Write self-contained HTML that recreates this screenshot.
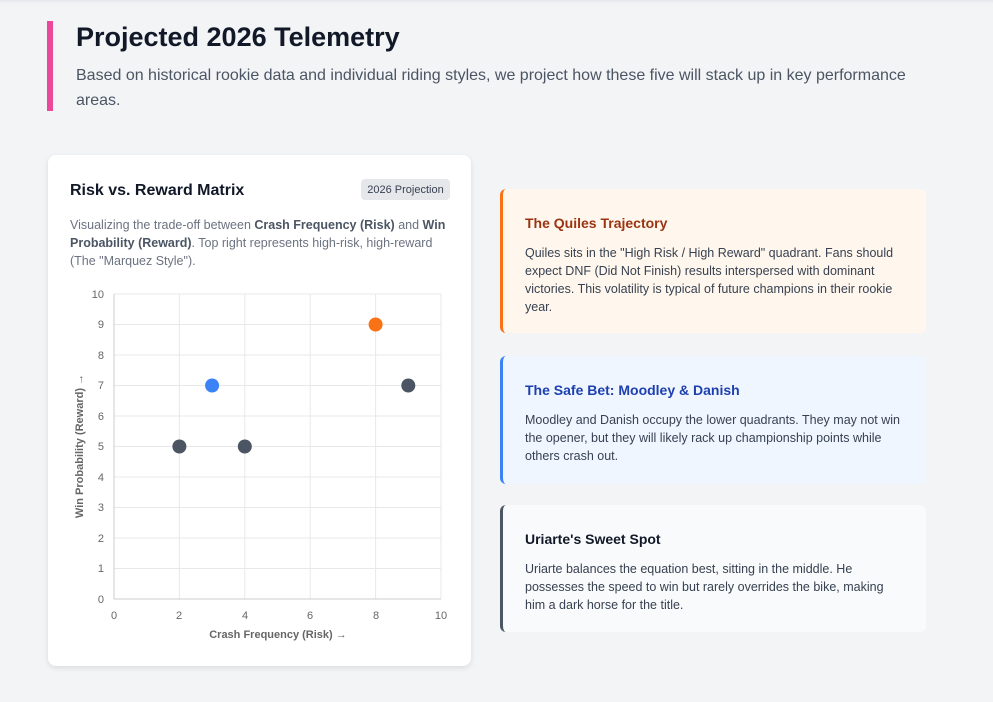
<!DOCTYPE html><html><head><style>
body{margin:0;width:993px;height:702px;background:#f3f4f6;font-family:"Liberation Sans",sans-serif;position:relative;overflow:hidden}
.top{position:absolute;left:0;top:0;width:993px;height:4px;background:linear-gradient(#e5e7eb,#f3f4f6)}
.bar{position:absolute;left:47px;top:21px;width:6px;height:90px;background:#ec4899}
h1{position:absolute;left:76px;top:22px;margin:0;font-size:27px;color:#111827;font-weight:bold}
.sub{position:absolute;left:76px;top:63px;width:850px;font-size:16px;line-height:25px;color:#4b5563}
.card{position:absolute;left:48px;top:155px;width:423px;height:511px;background:#fff;border-radius:8px;box-shadow:0 2px 6px rgba(0,0,0,.1)}
.card h2{position:absolute;left:22px;top:27px;margin:0;font-size:16px;color:#111827}
.badge{position:absolute;left:313px;top:24px;width:89px;height:21px;background:#e5e7eb;border-radius:4px;font-size:11px;color:#374151;text-align:center;line-height:23px}
.desc{position:absolute;left:22px;top:61px;width:385px;font-size:12.5px;line-height:18px;color:#6b7280}
.desc b{color:#4b5563}
.r{position:absolute;left:500px;width:426px;border-radius:6px;box-sizing:border-box;padding:0 22px}
.r h3{margin:26px 0 13px;font-size:14px}
.r p{margin:0;font-size:12.5px;line-height:18px;color:#374151}
</style></head><body>
<div class="top"></div><div class="bar"></div>
<h1>Projected 2026 Telemetry</h1>
<div class="sub">Based on historical rookie data and individual riding styles, we project how these five will stack up in key performance areas.</div>
<div class="card"><h2>Risk vs. Reward Matrix</h2><div class="badge">2026 Projection</div>
<div class="desc">Visualizing the trade-off between <b>Crash Frequency (Risk)</b> and <b>Win Probability (Reward)</b>. Top right represents high-risk, high-reward (The "Marquez Style").</div></div>
<svg style="position:absolute;left:0;top:0" width="993" height="702" font-family="Liberation Sans,sans-serif" font-size="11" fill="#666">
<g stroke="#e8e8e8" stroke-width="1">
<line x1="114" y1="294" x2="441" y2="294"/><line x1="114" y1="324.5" x2="441" y2="324.5"/><line x1="114" y1="355" x2="441" y2="355"/><line x1="114" y1="385.5" x2="441" y2="385.5"/><line x1="114" y1="416" x2="441" y2="416"/><line x1="114" y1="446.5" x2="441" y2="446.5"/><line x1="114" y1="477" x2="441" y2="477"/><line x1="114" y1="507.5" x2="441" y2="507.5"/><line x1="114" y1="538" x2="441" y2="538"/><line x1="114" y1="568.5" x2="441" y2="568.5"/>
<line x1="179.4" y1="294" x2="179.4" y2="599"/><line x1="244.8" y1="294" x2="244.8" y2="599"/><line x1="310.2" y1="294" x2="310.2" y2="599"/><line x1="375.6" y1="294" x2="375.6" y2="599"/><line x1="441" y1="294" x2="441" y2="599"/>
</g>
<g stroke="#ccc"><line x1="114" y1="294" x2="114" y2="599"/><line x1="114" y1="599" x2="441" y2="599"/></g>
<g text-anchor="end"><text x="104" y="298">10</text><text x="104" y="328">9</text><text x="104" y="359">8</text><text x="104" y="389">7</text><text x="104" y="420">6</text><text x="104" y="450">5</text><text x="104" y="481">4</text><text x="104" y="511">3</text><text x="104" y="542">2</text><text x="104" y="572">1</text><text x="104" y="603">0</text></g>
<g text-anchor="middle"><text x="114" y="619">0</text><text x="179" y="619">2</text><text x="245" y="619">4</text><text x="310" y="619">6</text><text x="376" y="619">8</text><text x="441" y="619">10</text>
<text x="278" y="638" font-weight="bold">Crash Frequency (Risk) →</text>
<text transform="translate(83,446) rotate(-90)" font-weight="bold">Win Probability (Reward) →</text></g>
<circle cx="179.4" cy="446.5" r="7" fill="#4b5563"/><circle cx="244.8" cy="446.5" r="7" fill="#4b5563"/><circle cx="408.3" cy="385.5" r="7" fill="#4b5563"/>
<circle cx="212.1" cy="385.5" r="7" fill="#3b82f6"/><circle cx="375.6" cy="324.5" r="7" fill="#f97316"/>
</svg>
<div class="r" style="top:189px;height:144px;background:#fff7ed;border-left:3px solid #f97316"><h3 style="color:#9a3412">The Quiles Trajectory</h3><p>Quiles sits in the "High Risk / High Reward" quadrant. Fans should expect DNF (Did Not Finish) results interspersed with dominant victories. This volatility is typical of future champions in their rookie year.</p></div>
<div class="r" style="top:356px;height:128px;background:#eff6ff;border-left:3px solid #3b82f6"><h3 style="color:#1e40af">The Safe Bet: Moodley &amp; Danish</h3><p>Moodley and Danish occupy the lower quadrants. They may not win the opener, but they will likely rack up championship points while others crash out.</p></div>
<div class="r" style="top:505px;height:127px;background:#f9fafb;border-left:3px solid #4b5563"><h3 style="color:#111827">Uriarte's Sweet Spot</h3><p>Uriarte balances the equation best, sitting in the middle. He possesses the speed to win but rarely overrides the bike, making him a dark horse for the title.</p></div>
</body></html>
